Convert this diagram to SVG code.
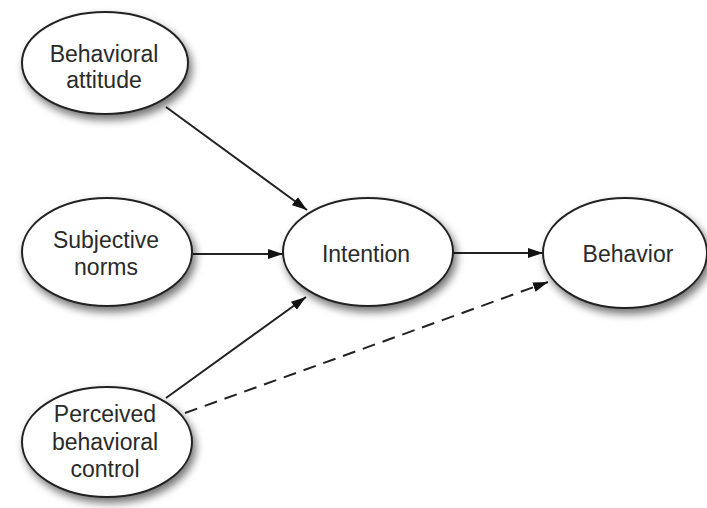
<svg xmlns="http://www.w3.org/2000/svg" width="707" height="508" viewBox="0 0 707 508">
<defs>
<filter id="sh" x="-20%" y="-20%" width="150%" height="160%">
<feGaussianBlur in="SourceAlpha" stdDeviation="4"/>
<feOffset dx="3" dy="5" result="b"/>
<feComponentTransfer><feFuncA type="linear" slope="0.55"/></feComponentTransfer>
<feMerge><feMergeNode/><feMergeNode in="SourceGraphic"/></feMerge>
</filter>
<marker id="ah" markerWidth="16" markerHeight="12" refX="15" refY="6" orient="auto" markerUnits="userSpaceOnUse">
<path d="M0,1 L15,6 L0,11 Z" fill="#111"/>
</marker>
<style>
.node ellipse{fill:#fff;stroke:#222;stroke-width:2;filter:url(#sh)}
.node text{font-family:"Liberation Sans",Arial,sans-serif;font-size:23px;fill:#2a2a2a;text-anchor:middle}
.edge{stroke:#222;stroke-width:2;fill:none;marker-end:url(#ah)}
.dash{stroke-dasharray:13 8}
</style>
</defs>
<rect width="707" height="508" fill="#fff"/>
<g id="connectors">
<line class="edge" x1="166" y1="107" x2="307" y2="210"/>
<line class="edge" x1="193" y1="254" x2="283" y2="254"/>
<line class="edge" x1="166" y1="398" x2="306" y2="297"/>
<line class="edge dash" x1="185" y1="413" x2="548" y2="282"/>
<line class="edge" x1="453" y1="253" x2="543" y2="253"/>
</g>
<g id="attitude" class="node">
<ellipse cx="105" cy="63" rx="83" ry="51"/>
<text x="104" y="62">Behavioral</text>
<text x="104" y="88">attitude</text>
</g>
<g id="norms" class="node">
<ellipse cx="107" cy="252" rx="85" ry="54"/>
<text x="106" y="248">Subjective</text>
<text x="106" y="275">norms</text>
</g>
<g id="intention" class="node">
<ellipse cx="368" cy="252" rx="85" ry="54"/>
<text x="366" y="262">Intention</text>
</g>
<g id="behavior" class="node">
<ellipse cx="625" cy="253" rx="82" ry="55"/>
<text x="628" y="262">Behavior</text>
</g>
<g id="control" class="node">
<ellipse cx="107" cy="442" rx="85" ry="55"/>
<text x="105" y="422">Perceived</text>
<text x="105" y="450">behavioral</text>
<text x="105" y="477">control</text>
</g>
</svg>
